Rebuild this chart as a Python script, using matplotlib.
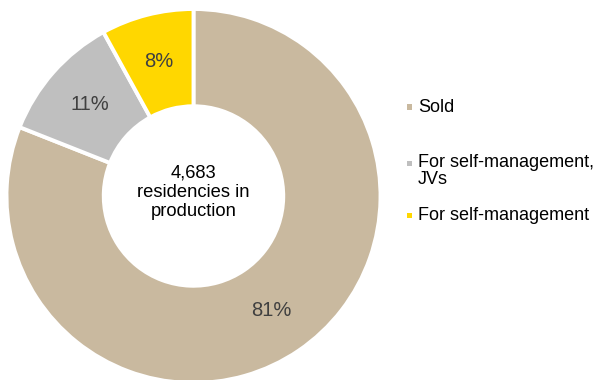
import matplotlib
matplotlib.use("Agg")
import matplotlib.pyplot as plt
from matplotlib.patches import Rectangle

plt.rcParams['font.family'] = ['Liberation Sans', 'DejaVu Sans']

categories = ["Sold", "For self-management,\nJVs", "For self-management"]
shares = [81, 11, 8]
colors = ["#C9B99F", "#BFBFBF", "#FFD700"]
total_units = "4,683"
center_caption = f"{total_units}\nresidencies in\nproduction"

fig = plt.figure(figsize=(6.01, 3.80), dpi=100)
W, H = 601, 380
cx, cy, R = 193.5, 184, 187.0
ax = fig.add_axes([(cx - R) / W, (cy - R) / H, 2 * R / W, 2 * R / H])

inner = 0.48
wedges, texts, autotexts = ax.pie(
    shares, colors=colors, startangle=90, counterclock=False, radius=1,
    autopct=lambda p: f"{p:.0f}%", pctdistance=(1 + inner) / 2,
    wedgeprops=dict(width=1 - inner, edgecolor="white", linewidth=2.8),
    textprops=dict(color="#404040", fontsize=14.5),
)
ax.set_xlim(-1, 1)
ax.set_ylim(-1, 1)
ax.set_aspect("equal")
ax.axis("off")

ax.text(0, 0.02, center_caption, ha="center", va="center", fontsize=13.2,
        color="#000000", linespacing=1.2)

# legend entries with small square keys
entry_y = [107, 171, 216]
key_x, text_x = 409, 418
for label, col, y in zip(categories, colors, entry_y):
    first_line_y = y - (8 if "\n" in label else 0)
    fig.patches.append(Rectangle(((key_x - 2.5) / W, 1 - (first_line_y + 2.5) / H),
                                 5 / W, 5 / H, transform=fig.transFigure,
                                 facecolor=col, edgecolor="none"))
    fig.text(text_x / W, 1 - y / H, label, ha="left", va="center",
             fontsize=13, color="#000000", linespacing=0.96)

fig.savefig("out.png", dpi=100)
